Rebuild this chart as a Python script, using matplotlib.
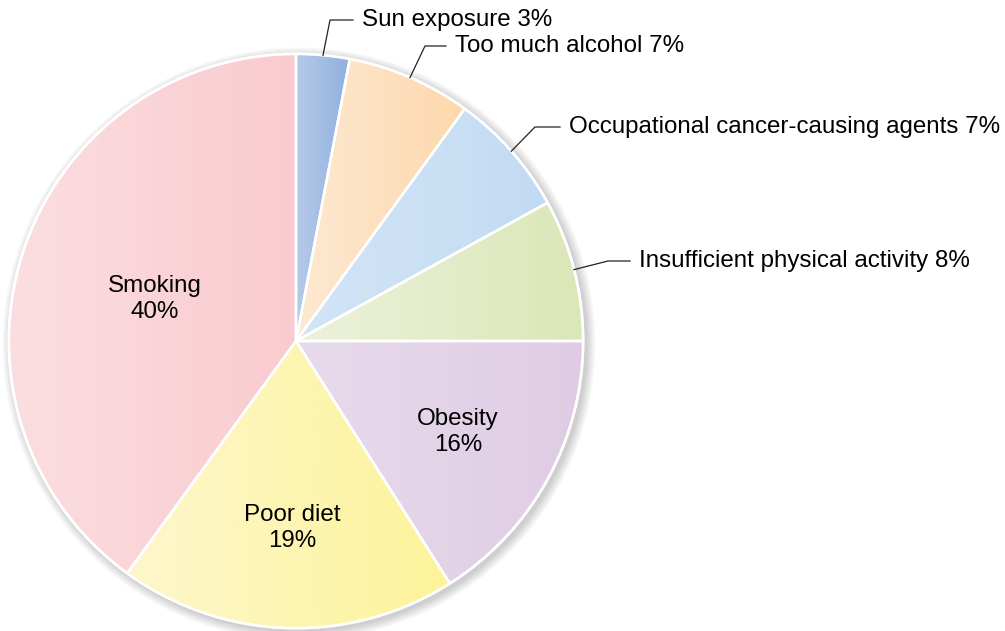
import numpy as np
import matplotlib.pyplot as plt
from matplotlib.patches import Circle
from matplotlib.colors import to_rgb

plt.rcParams['font.family'] = ['Liberation Sans', 'DejaVu Sans']

# slices, clockwise from the top
labels = ['Sun exposure', 'Too much alcohol', 'Occupational cancer-causing agents',
          'Insufficient physical activity', 'Obesity', 'Poor diet', 'Smoking']
values = [3, 7, 7, 8, 16, 19, 40]
# gradient colours: lighter on the left, stronger on the right
left_colors = ['#b6cbe9', '#fde9d3', '#d3e5f6', '#ecf2dc', '#e7dbeb', '#fdf7cc', '#fbdee1']
right_colors = ['#8eb0de', '#fdd8ac', '#c2dbf2', '#dae7b7', '#dfcce4', '#fdf39a', '#f9cbcf']
# which slices get an outside label with a leader line
outside = [True, True, True, True, False, False, False]
# outside label text positions (px, left edge / middle) and elbow x
out_text_pos = [(362, 20), (455, 46), (569, 127), (639, 261)]
elbow_x = [330, 425, 535, 608]
# inside label positions (px)
in_text_pos = {4: (458, 432), 5: (292, 528), 6: (155, 299)}

W, H = 1005, 631
cx, cy, r = 296, H - 341, 287

fig = plt.figure(figsize=(W / 100, H / 100), dpi=100)
ax = fig.add_axes([0, 0, 1, 1])

# soft drop shadow
for i in range(12):
    ax.add_patch(Circle((cx + 3, cy - 3), r + 1 + i * 0.8, color='k', alpha=0.014,
                        lw=0, zorder=0))
ax.add_patch(Circle((cx, cy), r + 1.5, color='white', lw=0, zorder=0.5))

wedges, _ = ax.pie(values, startangle=90, counterclock=False, center=(cx, cy),
                   radius=r, frame=True,
                   wedgeprops=dict(edgecolor='white', linewidth=1.8))
ax.set_xlim(0, W)
ax.set_ylim(0, H)
ax.set_aspect('equal')
ax.axis('off')

for w, c0, c1 in zip(wedges, left_colors, right_colors):
    w.set_facecolor('none')
    w.set_zorder(3)
    bb = w.get_path().get_extents()
    t = np.linspace(0, 1, 256)[:, None]
    grad = (1 - t) * np.array(to_rgb(c0)) + t * np.array(to_rgb(c1))
    im = ax.imshow(grad[None, :, :], extent=[bb.x0, bb.x1, bb.y0, bb.y1],
                   aspect='auto', zorder=2, interpolation='bilinear')
    im.set_clip_path(w)
ax.set_xlim(0, W)
ax.set_ylim(0, H)

fs = 17.4
k = 0
for i, (w, lab, v) in enumerate(zip(wedges, labels, values)):
    if outside[i]:
        ang = np.deg2rad((w.theta1 + w.theta2) / 2)
        x0, y0 = cx + r * np.cos(ang), cy + r * np.sin(ang)
        tx, ty = out_text_pos[k]
        ty = H - ty
        ex = elbow_x[k]
        ax.plot([x0, ex, tx - 9], [y0, ty, ty], color='#222222', lw=0.9, zorder=4)
        ax.text(tx, ty, f'{lab} {v}%', fontsize=fs, ha='left', va='center', zorder=5)
        k += 1
    else:
        tx, ty = in_text_pos[i]
        ax.text(tx, H - ty, f'{lab}\n{v}%', fontsize=fs, ha='center', va='center',
                linespacing=1.25, zorder=5)

fig.savefig('out.png', dpi=100)
